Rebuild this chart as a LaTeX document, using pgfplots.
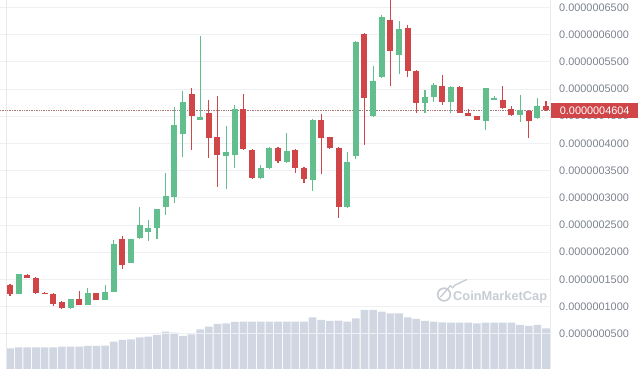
\documentclass[border=0pt]{standalone}
\usepackage{fontspec}
\setmainfont{Liberation Sans}
\usepackage{pgfplots}
\pgfplotsset{compat=1.18}
\usepackage{pgfplotstable}
\definecolor{cgreen}{RGB}{98,190,140}
\definecolor{cred}{RGB}{208,70,72}
\definecolor{vol}{RGB}{209,214,227}
\definecolor{gridc}{RGB}{238,240,243}
\definecolor{sepc}{RGB}{232,234,238}
\definecolor{lab}{RGB}{125,130,142}
\definecolor{wm}{RGB}{200,204,212}
\definecolor{dotc}{RGB}{170,120,120}

\pgfplotstableread{
x o h l c
1 1230 1600 1225 1593
7 968 1140 960 1133
9 1028 1335 1020 1243
11 1120 1396 1115 1273
12 1273 2223 1260 2144
14 1806 2240 1800 2236
15 2254 2824 2250 2493
16 2376 2591 2210 2449
17 2449 2790 2236 2787
18 2835 3449 2682 3037
19 3008 4662 2898 4337
20 4171 4967 3754 4765
22 4429 5973 4420 4489
25 3767 4318 3155 3846
26 3785 4704 3541 4625
29 3357 3601 3340 3541
30 3541 3930 3530 3919
32 3662 4184 3630 3864
35 3326 4440 3129 4429
39 2835 3846 2820 3651
40 3767 5880 3706 5868
42 4502 5421 4490 5151
43 5213 6360 5200 6327
45 5623 6254 5274 6096
48 4747 4980 4552 4857
49 4857 5114 4765 5072
51 4765 5060 4563 5041
55 4416 5011 4245 5011
56 4810 4870 4800 4830
59 4520 4888 4386 4612
61 4460 4827 4440 4691
}\greentab

\pgfplotstableread{
x o h l c
0 1396 1414 1194 1230
2 1580 1600 1520 1530
3 1530 1545 1225 1243
4 1250 1260 1225 1235
5 1230 1240 1010 1047
6 1089 1100 960 968
8 1133 1291 1020 1028
10 1243 1250 1115 1120
13 2236 2296 1684 1763
21 4901 5011 3877 4508
23 4563 4796 3725 4092
24 4111 4870 3203 3785
27 4625 4906 3880 3890
28 3877 3890 3340 3357
31 3919 3930 3630 3675
33 3877 3890 3449 3541
34 3541 3560 3276 3339
36 4429 4539 3436 4092
37 4111 4120 3900 3919
38 3919 3930 2622 2835
41 6009 6020 3969 4827
44 6267 6630 5053 5702
46 6114 6175 5213 5329
47 5329 5340 4552 4747
50 5053 5256 4704 4765
52 5041 5050 4563 4563
53 4563 4625 4500 4508
54 4502 4510 4420 4429
57 4796 5053 4630 4644
58 4637 4680 4510 4520
60 4600 4620 4092 4416
62 4686 4783 4600 4604
}\redtab

\pgfplotstableread{
x v
0 20.7
1 21.7
2 21.7
3 21.7
4 21.7
5 21.7
6 22.3
7 22.3
8 22.3
9 23
10 23
11 23.3
12 27.3
13 29
14 29.7
15 31.7
16 32.3
17 34
18 37.3
19 36.3
20 33
21 34.7
22 39.7
23 42.3
24 45
25 45.7
26 47
27 47.3
28 47.3
29 47.3
30 47.3
31 47.3
32 47.3
33 47.3
34 47.3
35 51.7
36 49
37 48
38 48.3
39 47.3
40 50.7
41 59
42 59
43 57.3
44 55.7
45 55.7
46 51.7
47 50
48 48
49 47.3
50 46.7
51 46.3
52 46.3
53 46.3
54 45.7
55 46.3
56 46.3
57 46.3
58 46.3
59 44
60 43
61 44
62 40.7
}\voltab

\begin{document}
\begin{tikzpicture}
\path[use as bounding box] (0,0) rectangle (640pt,369pt);
% volume axis
\begin{axis}[
  at={(0,0)}, anchor=south west, scale only axis,
  width=550pt, height=369pt,
  xmin=-1.157, xmax=62.46, ymin=0, ymax=369,
  hide axis, ybar, bar width=7.7pt, bar shift=0pt,
]
\addplot[fill=vol, draw=none] table[x=x, y=v] {\voltab};
\end{axis}
% price axis
\begin{axis}[
  at={(0,0)}, anchor=south west, scale only axis,
  width=550pt, height=369pt,
  xmin=-1.157, xmax=62.46, ymin=-148, ymax=6634,
  axis line style={draw=none},
  xtick=\empty,
  ytick={500,1000,1500,2000,2500,3000,3500,4000,4500,5000,5500,6000,6500},
  yticklabels={0.0000000500,0.0000001000,0.0000001500,0.0000002000,0.0000002500,0.0000003000,0.0000003500,0.0000004000,0.0000004500,0.0000005000,0.0000005500,0.0000006000,0.0000006500},
  yticklabel pos=right,
  major tick length=0pt,
  yticklabel style={anchor=west, inner sep=0pt, xshift=9pt, text=lab, font=\fontsize{10.9pt}{12pt}\selectfont},
  ymajorgrids, grid style={gridc, line width=0.6pt},
  clip=false,
  candlewick/.style={draw=none, mark=none, forget plot,
    error bars/.cd, y dir=both, y explicit, error mark=none,
    error bar style={draw=#1, line cap=butt, line width=1.1pt}},
  candlebody/.style={draw=none, mark=none, forget plot,
    error bars/.cd, y dir=both, y explicit, error mark=none,
    error bar style={draw=#1, line cap=butt, line width=6pt}},
]
\draw[sepc, line width=0.8pt] (rel axis cs:1,0) -- (rel axis cs:1,1);
\draw[sepc, line width=0.6pt] (axis cs:-0.463,-148) -- (axis cs:-0.463,6634);
% price line
\addplot[dotc, densely dotted, line width=0.7pt, mark=none] coordinates {(-1.157,4604) (62.46,4604)};
% wicks
\addplot[candlewick=cgreen]
  table[x=x, y expr={(\thisrow{h}+\thisrow{l})/2}, y error expr={(\thisrow{h}-\thisrow{l})/2}] {\greentab};
\addplot[candlewick=cred]
  table[x=x, y expr={(\thisrow{h}+\thisrow{l})/2}, y error expr={(\thisrow{h}-\thisrow{l})/2}] {\redtab};
% bodies
\addplot[candlebody=cgreen]
  table[x=x, y expr={(\thisrow{o}+\thisrow{c})/2}, y error expr={max(abs(\thisrow{c}-\thisrow{o})/2,14)}] {\greentab};
\addplot[candlebody=cred]
  table[x=x, y expr={(\thisrow{o}+\thisrow{c})/2}, y error expr={max(abs(\thisrow{c}-\thisrow{o})/2,14)}] {\redtab};
% current price box
\node[fill=cred, text=white, inner sep=0pt, minimum width=87pt, minimum height=15pt,
  anchor=west, font=\fontsize{10.9pt}{12pt}\selectfont] at (axis cs:62.46,4604) [xshift=1pt] {0.0000004604};
% watermark
\draw[wm, line width=1.7pt] (axis cs:50.2,1221) circle (6.3pt);
\draw[wm, line width=1.4pt, line join=round] (axis cs:50.2,1221) ++(-3.6pt,-2.6pt) -- ++(0,3.4pt) -- ++(2.2pt,-2.2pt) -- ++(2.2pt,2.6pt) -- ++(0,-3.2pt) -- ++(2pt,0.8pt);
\node[anchor=base west, inner sep=0pt, text=wm, font=\fontsize{12.8pt}{14pt}\selectfont\bfseries] at (axis cs:51.24,1120) {CoinMarketCap};
\end{axis}
\end{tikzpicture}
\end{document}
